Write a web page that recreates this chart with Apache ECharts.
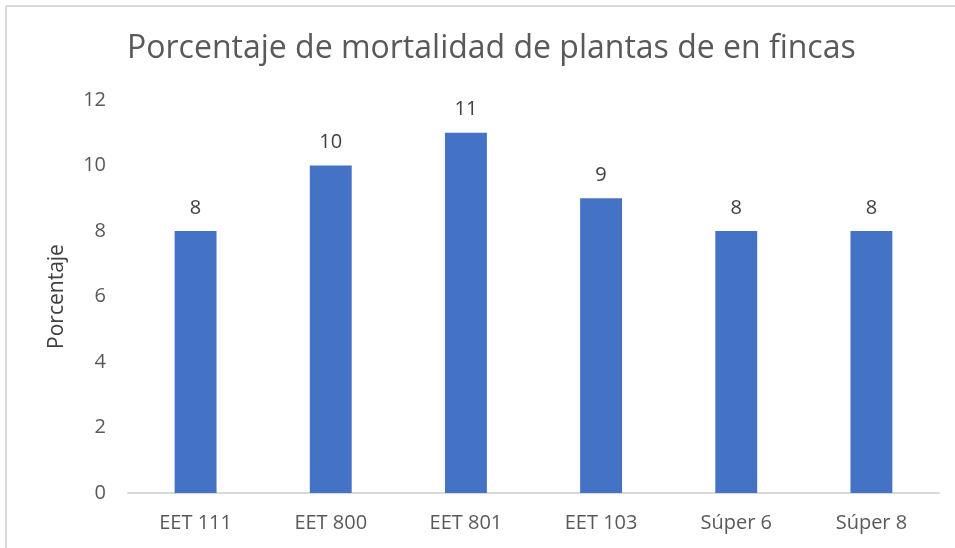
<!DOCTYPE html>
<html>
<head>
<meta charset="utf-8">
<script src="https://cdn.jsdelivr.net/npm/echarts@6/dist/echarts.min.js"></script>
<style>
html,body{margin:0;padding:0;background:#fff;}
#c{width:955px;height:548px;}
</style>
</head>
<body>
<div id="c"></div>
<script>
var categories = ['EET 111', 'EET 800', 'EET 801', 'EET 103', 'Súper 6', 'Súper 8'];
var values = [8, 10, 11, 9, 8, 8];
var titleText = 'Porcentaje de mortalidad de plantas de en fincas';
var yAxisName = 'Porcentaje';

var chart = echarts.init(document.getElementById('c'), null, {renderer: 'canvas'});
var font = '"Open Sans", "Noto Sans", sans-serif';
chart.setOption({
  animation: false,
  backgroundColor: '#ffffff',
  textStyle: {fontFamily: font},
  title: {
    text: titleText,
    left: 122,
    top: 28,
    textStyle: {fontFamily: font, fontSize: 32, fontWeight: 'normal', color: '#595959'}
  },
  graphic: [
    {type: 'line', shape: {x1: 6, y1: 6, x2: 955, y2: 6}, style: {stroke: '#d9d9d9', lineWidth: 2}},
    {type: 'line', shape: {x1: 6, y1: 6, x2: 6, y2: 548}, style: {stroke: '#d9d9d9', lineWidth: 2}}
  ],
  grid: {left: 128, right: 16, top: 100, bottom: 55},
  xAxis: {
    type: 'category',
    data: categories,
    axisLine: {lineStyle: {color: '#d9d9d9', width: 2}},
    axisTick: {show: false},
    axisLabel: {color: '#595959', fontSize: 20, margin: 20, fontFamily: font}
  },
  yAxis: {
    type: 'value',
    min: 0, max: 12, interval: 2,
    name: yAxisName,
    nameLocation: 'middle',
    nameGap: 60,
    nameTextStyle: {color: '#404040', fontSize: 21, fontFamily: font},
    splitLine: {show: false},
    axisLine: {show: false},
    axisTick: {show: false},
    axisLabel: {color: '#595959', fontSize: 20, margin: 22, fontFamily: font}
  },
  series: [{
    type: 'bar',
    data: values,
    barWidth: '31%',
    itemStyle: {color: '#4472c4'},
    label: {show: true, position: 'top', distance: 13, color: '#404040', fontSize: 20, fontFamily: font}
  }]
});
</script>
</body>
</html>
